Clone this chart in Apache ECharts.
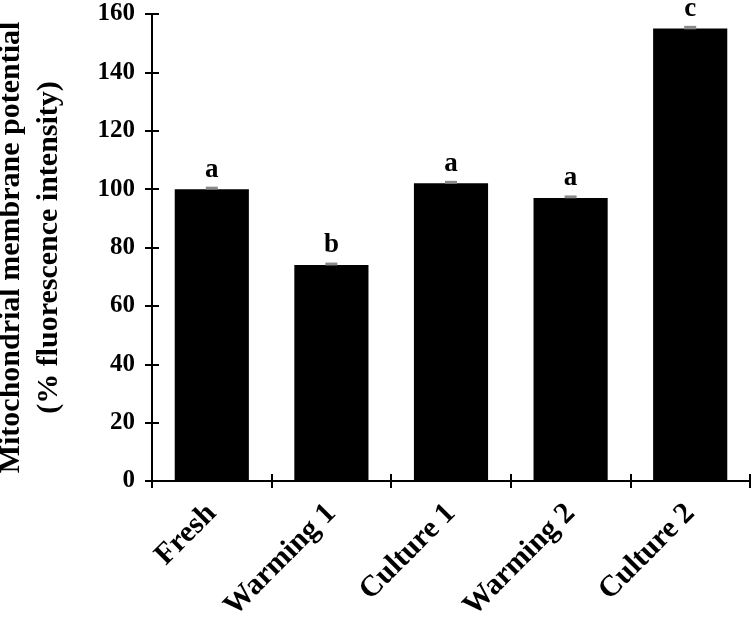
<!DOCTYPE html>
<html>
<head>
<meta charset="utf-8">
<script src="https://cdn.jsdelivr.net/npm/echarts@6/dist/echarts.min.js"></script>
<style>html,body{margin:0;padding:0;background:#fff}#c{width:754px;height:622px}</style>
</head>
<body>
<div id="c"></div>
<script>
var categories = ['Fresh', 'Warming 1', 'Culture 1', 'Warming 2', 'Culture 2'];
var values = [100, 74, 102, 97, 155];
var errors = [0.5, 0.5, 0.5, 0.5, 0.6];
var letters = ['a', 'b', 'a', 'a', 'c'];
var yTicks = [0, 20, 40, 60, 80, 100, 120, 140, 160];

var FONT = '"Liberation Serif", "Times New Roman", serif';
var chart = echarts.init(document.getElementById('c'));
chart.setOption({
  animation: false,
  grid: { left: 152, top: 14, right: 4, bottom: 141, containLabel: false, outerBoundsMode: 'none' },
  xAxis: [{
    type: 'category', data: categories,
    axisLine: { lineStyle: { color: '#000', width: 2 } },
    axisTick: { show: true, length: 7, lineStyle: { color: '#000', width: 2 } },
    axisLabel: { rotate: 45, margin: 28, color: '#000', fontFamily: FONT, fontWeight: 'bold', fontSize: 30 }
  }, {
    type: 'category', data: categories, position: 'bottom',
    axisLine: { show: false },
    axisTick: { show: true, inside: true, length: 7, lineStyle: { color: '#000', width: 2 } },
    axisLabel: { show: false }
  }],
  yAxis: [{
    type: 'value', min: yTicks[0], max: yTicks[yTicks.length - 1], interval: 20,
    name: 'Mitochondrial membrane potential\n(% fluorescence intensity)',
    nameLocation: 'middle', nameGap: 84,
    nameTextStyle: { color: '#000', fontFamily: FONT, fontWeight: 'bold', fontSize: 30, lineHeight: 38 },
    axisLine: { show: true, lineStyle: { color: '#000', width: 2 } },
    axisTick: { show: true, length: 7, lineStyle: { color: '#000', width: 2 } },
    splitLine: { show: false },
    axisLabel: { margin: 17, color: '#000', fontFamily: FONT, fontWeight: 'bold', fontSize: 25 }
  }, {
    type: 'value', min: yTicks[0], max: yTicks[yTicks.length - 1], interval: 20, position: 'left',
    axisLine: { show: false },
    axisTick: { show: true, inside: true, length: 7, lineStyle: { color: '#000', width: 2 } },
    splitLine: { show: false },
    axisLabel: { show: false }
  }],
  series: [{
    type: 'bar', data: values, barWidth: '62%',
    itemStyle: { color: '#000' },
    label: {
      show: true, position: 'top', distance: 6,
      formatter: function (p) { return letters[p.dataIndex]; },
      color: '#000', fontFamily: FONT, fontWeight: 'bold', fontSize: 27
    },
    z: 2
  }, {
    type: 'custom',
    data: values.map(function (v, i) { return [i, v - errors[i], v + errors[i]]; }),
    renderItem: function (params, api) {
      var lo = api.coord([api.value(0), api.value(1)]);
      var hi = api.coord([api.value(0), api.value(2)]);
      var h = Math.max(Math.abs(lo[1] - hi[1]), 2.5);
      return {
        type: 'rect',
        shape: { x: lo[0] - 6, y: Math.min(lo[1], hi[1]) - 1, width: 12, height: h },
        style: { fill: '#8a8a8a' }
      };
    },
    z: 3
  }]
});
</script>
</body>
</html>
